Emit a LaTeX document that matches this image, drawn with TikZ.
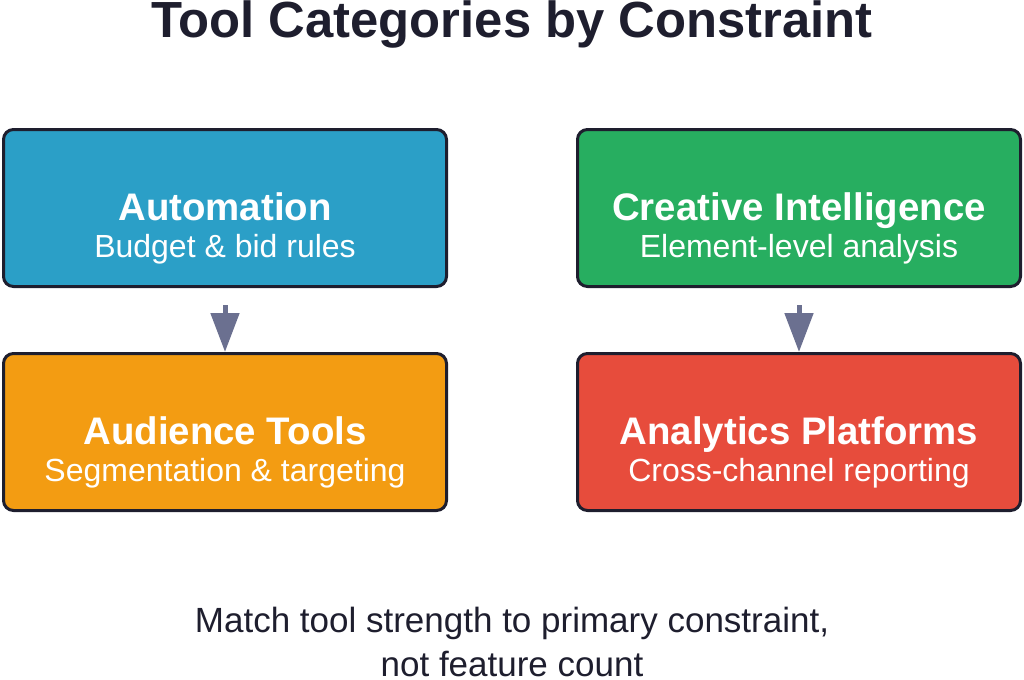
\documentclass[tikz,border=0pt]{standalone}
\usepackage{fontspec}
\setmainfont{Liberation Sans}
\usepackage{xcolor}
\usetikzlibrary{arrows.meta}

\definecolor{inkdark}{HTML}{1E1E2E}
\definecolor{autoblue}{HTML}{2B9FC7}
\definecolor{creativegreen}{HTML}{27AE60}
\definecolor{audienceorange}{HTML}{F39C12}
\definecolor{analyticsred}{HTML}{E74C3C}
\definecolor{arrowgray}{HTML}{6B7090}

\begin{document}
\begin{tikzpicture}[x=0.5pt,y=-0.5pt,
  category/.style={draw=inkdark, line width=1.5pt, rounded corners=5pt,
    minimum width=221.5pt, minimum height=78.5pt, inner sep=0pt},
  cattitle/.style={anchor=base, text=white, font=\fontsize{19.2}{23}\selectfont\bfseries},
  catsub/.style={anchor=base, text=white, font=\fontsize{16}{19}\selectfont},
  heading/.style={anchor=base, text=inkdark, font=\fontsize{25.4}{30}\selectfont\bfseries},
  note/.style={anchor=base, text=inkdark, font=\fontsize{17.5}{21}\selectfont},
  flow/.style={draw=arrowgray, line width=2.5pt, -{Triangle[length=19.5pt,width=14pt]}}]
\useasboundingbox (0,0) rectangle (1024,680);

\node[heading] (title) at (512,37) {Tool Categories by Constraint};

% category boxes
\node[category, fill=autoblue] (auto) at (225,208) {};
\node[category, fill=creativegreen] (creative) at (799,208) {};
\node[category, fill=audienceorange] (audience) at (225,432) {};
\node[category, fill=analyticsred] (analytics) at (799,432) {};

\node[cattitle] (autot) at ([yshift=-6pt]auto.center) {Automation};
\node[catsub] (autos) at ([yshift=-24.5pt]auto.center) {Budget \& bid rules};
\node[cattitle] (creativet) at ([yshift=-6pt]creative.center) {Creative Intelligence};
\node[catsub] (creatives) at ([yshift=-24.5pt]creative.center) {Element-level analysis};
\node[cattitle] (audiencet) at ([yshift=-6pt]audience.center) {Audience Tools};
\node[catsub] (audiences) at ([yshift=-24.5pt]audience.center) {Segmentation \& targeting};
\node[cattitle] (analyticst) at ([yshift=-6pt]analytics.center) {Analytics Platforms};
\node[catsub] (analyticss) at ([yshift=-24.5pt]analytics.center) {Cross-channel reporting};

% arrows
\draw[flow] ([yshift=-8.5pt]auto.south) -- (audience.north);
\draw[flow] ([yshift=-8.5pt]creative.south) -- (analytics.north);

\node[note] (note1) at (512,632) {Match tool strength to primary constraint,};
\node[note] (note2) at (512,676) {not feature count};
\end{tikzpicture}
\end{document}
